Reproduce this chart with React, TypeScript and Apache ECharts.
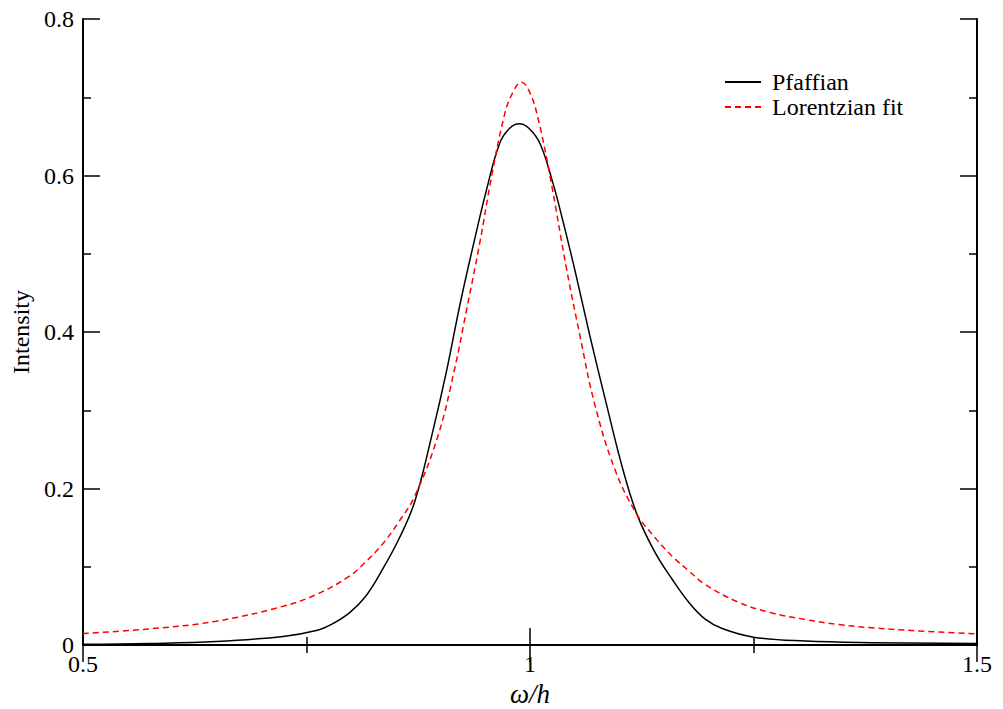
import React, { useEffect, useRef } from "react";
import * as echarts from "echarts";

const pfaffianX = [0.5, 0.575, 0.649, 0.724, 0.761, 0.779, 0.798, 0.816, 0.835, 0.854, 0.871, 0.89, 0.907, 0.922, 0.938, 0.951, 0.966, 0.977, 0.988, 0.999, 1.0115, 1.026, 1.037, 1.05, 1.067, 1.085, 1.104, 1.12, 1.14, 1.159, 1.178, 1.196, 1.215, 1.25, 1.308, 1.382, 1.5];
const pfaffianY = [0.001, 0.002, 0.0045, 0.011, 0.0185, 0.027, 0.041, 0.062, 0.0965, 0.137, 0.183, 0.267, 0.352, 0.437, 0.518, 0.58, 0.641, 0.66, 0.666, 0.66, 0.64, 0.589, 0.541, 0.48, 0.395, 0.31, 0.224, 0.166, 0.118, 0.084, 0.054, 0.033, 0.021, 0.01, 0.005, 0.003, 0.002];

const lorentzX = [0.5, 0.575, 0.649, 0.724, 0.761, 0.798, 0.816, 0.835, 0.853, 0.871, 0.897, 0.9155, 0.929, 0.944, 0.9564, 0.9702, 0.9787, 0.9907, 1.0, 1.0093, 1.0224, 1.041, 1.056, 1.072, 1.095, 1.119, 1.14, 1.159, 1.178, 1.196, 1.233, 1.27, 1.308, 1.345, 1.382, 1.419, 1.5];
const lorentzY = [0.0147, 0.0207, 0.0304, 0.0496, 0.0645, 0.088, 0.106, 0.129, 0.157, 0.19, 0.267, 0.352, 0.428, 0.515, 0.595, 0.6716, 0.7013, 0.7193, 0.7056, 0.6716, 0.599, 0.48, 0.3946, 0.3095, 0.2243, 0.168, 0.137, 0.1135, 0.0943, 0.0773, 0.0547, 0.0411, 0.0326, 0.0262, 0.022, 0.019, 0.0143];

const seriesNames = ["Pfaffian", "Lorentzian fit"];
const xTickLabels = ["0.5", "1", "1.5"];
const yTickLabels = ["0", "0.2", "0.4", "0.6", "0.8"];

const FONT = "'Liberation Serif', 'DejaVu Serif', serif";

export default function App() {
  const ref = useRef<HTMLDivElement>(null);
  useEffect(() => {
    if (!ref.current) return;
    const chart = echarts.init(ref.current, undefined, { renderer: "svg" });
    const axisLine = { show: true, lineStyle: { color: "#000", width: 2 } };
    const tick = { show: true, inside: true, length: 17, lineStyle: { color: "#000", width: 1.5 } };
    const minorTick = { show: true, splitNumber: 2, length: 8, lineStyle: { color: "#000", width: 1.5 } };
    chart.setOption({
      animation: false,
      backgroundColor: "#fff",
      grid: { left: 83, top: 19, right: 26, bottom: 64, containLabel: false, outerBoundsMode: "none" },
      legend: {
        orient: "vertical",
        left: 719,
        top: 65,
        itemWidth: 36,
        itemHeight: 14,
        itemGap: 1,
        data: seriesNames,
        itemStyle: { opacity: 0 },
        textStyle: { fontFamily: FONT, fontSize: 24, lineHeight: 24, color: "#000", padding: [0, 0, 0, 6] },
      },
      xAxis: [
        {
          type: "value",
          min: 0.5,
          max: 1.5,
          interval: 0.5,
          position: "bottom",
          axisLine,
          axisTick: tick,
          minorTick,
          splitLine: { show: false },
          axisLabel: {
            fontFamily: FONT,
            fontSize: 24,
            color: "#000",
            margin: 7,
            formatter: (v: number) => {
              const i = Math.round((v - 0.5) / 0.5);
              return xTickLabels[i] ?? "";
            },
          },
          name: "ω/h",
          nameLocation: "middle",
          nameGap: 31,
          nameTextStyle: { fontFamily: FONT, fontSize: 27, lineHeight: 27, fontStyle: "italic", color: "#000" },
        },
        {
          type: "value",
          min: 0.5,
          max: 1.5,
          interval: 0.5,
          position: "top",
          axisLine,
          axisTick: tick,
          minorTick,
          splitLine: { show: false },
          axisLabel: { show: false },
        },
      ],
      yAxis: [
        {
          type: "value",
          min: 0,
          max: 0.8,
          interval: 0.2,
          position: "left",
          axisLine,
          axisTick: tick,
          minorTick,
          splitLine: { show: false },
          axisLabel: {
            fontFamily: FONT,
            fontSize: 24,
            color: "#000",
            margin: 9,
            formatter: (v: number) => {
              const i = Math.round(v / 0.2);
              return yTickLabels[i] ?? "";
            },
          },
          name: "Intensity",
          nameLocation: "middle",
          nameGap: 49,
          nameRotate: 90,
          nameTextStyle: { fontFamily: FONT, fontSize: 24, color: "#000" },
        },
        {
          type: "value",
          min: 0,
          max: 0.8,
          interval: 0.2,
          position: "right",
          axisLine,
          axisTick: tick,
          minorTick,
          splitLine: { show: false },
          axisLabel: { show: false },
        },
      ],
      series: [
        {
          name: seriesNames[0],
          type: "line",
          xAxisIndex: 0,
          yAxisIndex: 0,
          data: pfaffianX.map((x, i) => [x, pfaffianY[i]]),
          smooth: 0.4,
          symbol: "none",
          lineStyle: { color: "#000", width: 1.5, type: "solid" },
          itemStyle: { color: "#000" },
        },
        {
          name: seriesNames[1],
          type: "line",
          xAxisIndex: 0,
          yAxisIndex: 0,
          data: lorentzX.map((x, i) => [x, lorentzY[i]]),
          smooth: 0.4,
          symbol: "none",
          lineStyle: { color: "#ff0000", width: 1.5, type: [6, 4] },
          itemStyle: { color: "#ff0000" },
        },
      ],
    });
    return () => chart.dispose();
  }, []);
  return (
    <div
      ref={ref}
      style={{ position: "fixed", left: 0, top: 0, width: 1003, height: 709, background: "#fff" }}
    />
  );
}
